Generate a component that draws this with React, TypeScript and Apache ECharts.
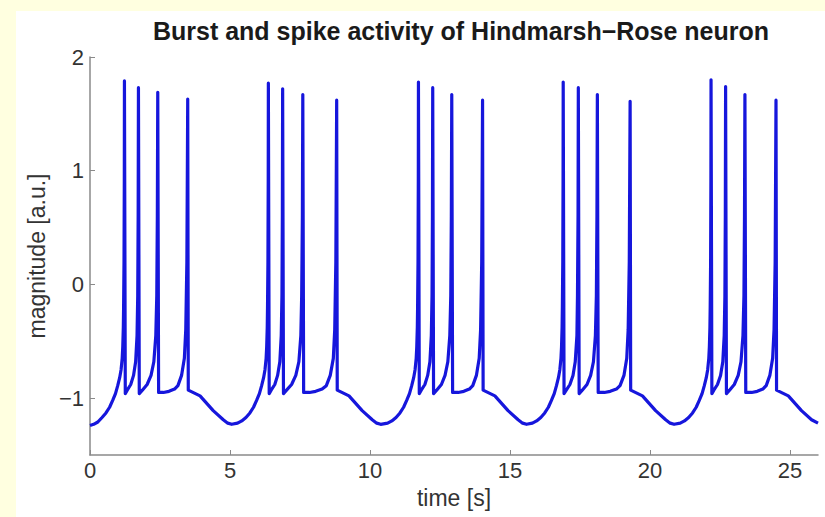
import React, { useEffect, useRef } from "react";
import * as echarts from "echarts";

const titleText = "Burst and spike activity of Hindmarsh\u2212Rose neuron";
const xTicks = [0, 5, 10, 15, 20, 25];
const yTicks = [-1, 0, 1, 2];

const burst1: number[][] = [
  [0, -1.24], [0.13, -1.23], [0.28, -1.21], [0.43, -1.17], [0.57, -1.13], [0.7, -1.08], [0.81, -1.02], [0.91, -0.96], [0.99, -0.89], [1.06, -0.82], [1.11, -0.75], [1.15, -0.65], [1.17, -0.55], [1.19, -0.38], [1.2, -0.2], [1.215, 0.2], [1.225, 0.9], [1.23, 1.79],
  [1.26, -0.96], [1.33, -0.93], [1.455, -0.88], [1.555, -0.8], [1.63, -0.68], [1.68, -0.45], [1.705, -0.1], [1.72, 0.6], [1.73, 1.73],
  [1.76, -0.96], [1.87, -0.93], [2.04, -0.88], [2.18, -0.8], [2.28, -0.68], [2.35, -0.45], [2.385, -0.1], [2.405, 0.6], [2.42, 1.69],
  [2.45, -0.95], [2.62, -0.95], [2.82, -0.94], [3.02, -0.92], [3.14, -0.89], [3.27, -0.8], [3.37, -0.65], [3.42, -0.4], [3.46, 0.2], [3.49, 1.63],
  [3.51, -0.93], [3.93, -0.98], [4.4, -1.11], [4.76, -1.19], [4.92, -1.22], [5.06, -1.23],
];

const burst2: number[][] = [
  [5.27, -1.22], [5.42, -1.2], [5.57, -1.17], [5.71, -1.13], [5.84, -1.08], [5.95, -1.02], [6.05, -0.96], [6.13, -0.89], [6.2, -0.82], [6.25, -0.75], [6.29, -0.65], [6.31, -0.55], [6.33, -0.38], [6.34, -0.2], [6.355, 0.2], [6.365, 0.9], [6.37, 1.77],
  [6.4, -0.96], [6.47, -0.93], [6.6, -0.88], [6.7, -0.8], [6.78, -0.68], [6.83, -0.45], [6.855, -0.1], [6.87, 0.6], [6.88, 1.72],
  [6.91, -0.96], [7.02, -0.93], [7.2, -0.88], [7.35, -0.8], [7.46, -0.68], [7.53, -0.45], [7.56, -0.1], [7.585, 0.6], [7.6, 1.67],
  [7.63, -0.95], [7.84, -0.95], [8.06, -0.94], [8.29, -0.92], [8.44, -0.89], [8.58, -0.8], [8.69, -0.65], [8.74, -0.4], [8.78, 0.2], [8.81, 1.62],
  [8.83, -0.93], [9.25, -0.98], [9.72, -1.11], [10.08, -1.19], [10.24, -1.22], [10.38, -1.23],
];

const burst3: number[][] = [
  [10.63, -1.22], [10.78, -1.2], [10.93, -1.17], [11.07, -1.13], [11.2, -1.08], [11.31, -1.02], [11.41, -0.96], [11.49, -0.89], [11.56, -0.82], [11.61, -0.75], [11.65, -0.65], [11.67, -0.55], [11.69, -0.38], [11.7, -0.2], [11.715, 0.2], [11.725, 0.9], [11.73, 1.78],
  [11.76, -0.96], [11.83, -0.93], [11.96, -0.88], [12.06, -0.8], [12.14, -0.68], [12.19, -0.45], [12.215, -0.1], [12.23, 0.6], [12.24, 1.73],
  [12.27, -0.96], [12.38, -0.93], [12.55, -0.88], [12.68, -0.8], [12.78, -0.68], [12.85, -0.45], [12.885, -0.1], [12.905, 0.6], [12.92, 1.67],
  [12.95, -0.95], [13.15, -0.95], [13.35, -0.94], [13.55, -0.92], [13.67, -0.89], [13.8, -0.8], [13.9, -0.65], [13.95, -0.4], [13.99, 0.2], [14.02, 1.62],
  [14.04, -0.93], [14.46, -0.98], [14.93, -1.11], [15.29, -1.19], [15.45, -1.22], [15.59, -1.23],
];

const burst4: number[][] = [
  [15.8, -1.22], [15.95, -1.2], [16.1, -1.17], [16.24, -1.13], [16.37, -1.08], [16.48, -1.02], [16.58, -0.96], [16.66, -0.89], [16.73, -0.82], [16.78, -0.75], [16.82, -0.65], [16.84, -0.55], [16.86, -0.38], [16.87, -0.2], [16.885, 0.2], [16.895, 0.9], [16.9, 1.78],
  [16.93, -0.96], [17.01, -0.93], [17.14, -0.88], [17.25, -0.8], [17.33, -0.68], [17.39, -0.45], [17.41, -0.1], [17.43, 0.6], [17.44, 1.73],
  [17.47, -0.96], [17.58, -0.93], [17.75, -0.88], [17.88, -0.8], [17.98, -0.68], [18.05, -0.45], [18.085, -0.1], [18.105, 0.6], [18.12, 1.67],
  [18.15, -0.95], [18.37, -0.95], [18.58, -0.94], [18.8, -0.92], [18.93, -0.89], [19.07, -0.8], [19.17, -0.65], [19.22, -0.4], [19.26, 0.2], [19.29, 1.61],
  [19.31, -0.93], [19.73, -0.98], [20.2, -1.11], [20.56, -1.19], [20.72, -1.22], [20.86, -1.23],
];

const burst5: number[][] = [
  [21.08, -1.22], [21.23, -1.2], [21.38, -1.17], [21.52, -1.13], [21.65, -1.08], [21.76, -1.02], [21.86, -0.96], [21.94, -0.89], [22.01, -0.82], [22.06, -0.75], [22.1, -0.65], [22.12, -0.55], [22.14, -0.38], [22.15, -0.2], [22.165, 0.2], [22.175, 0.9], [22.18, 1.8],
  [22.21, -0.96], [22.28, -0.93], [22.41, -0.88], [22.52, -0.8], [22.6, -0.68], [22.65, -0.45], [22.675, -0.1], [22.69, 0.6], [22.7, 1.74],
  [22.73, -0.96], [22.84, -0.93], [23.01, -0.88], [23.15, -0.8], [23.25, -0.68], [23.32, -0.45], [23.355, -0.1], [23.375, 0.6], [23.39, 1.67],
  [23.42, -0.95], [23.63, -0.95], [23.83, -0.94], [24.03, -0.92], [24.15, -0.89], [24.28, -0.8], [24.38, -0.65], [24.43, -0.4], [24.47, 0.2], [24.5, 1.62],
  [24.52, -0.93], [24.94, -0.98], [25.41, -1.11], [25.77, -1.19], [26.0, -1.22],
];

const fmt = (v: number) => (v < 0 ? "\u2212" + Math.abs(v) : String(v));

export default function App() {
  const ref = useRef<HTMLDivElement>(null);
  useEffect(() => {
    if (!ref.current) return;
    const chart = echarts.init(ref.current, null, { renderer: "svg" });
    const font = "'Liberation Sans', Arial, Helvetica, sans-serif";
    chart.setOption({
      animation: false,
      backgroundColor: "#FFFFE0",
      graphic: [
        {
          type: "rect",
          z: -10,
          shape: { x: 16, y: 11, width: 825, height: 520 },
          style: { fill: "#ffffff" },
          silent: true,
        },
      ],
      title: {
        text: titleText,
        left: 456,
        textAlign: "center",
        top: 13,
        textStyle: { fontFamily: font, fontSize: 25, fontWeight: "bold", color: "#1a1a1a" },
      },
      grid: { left: 90, right: 7, top: 57, bottom: 62, containLabel: false },
      xAxis: {
        type: "value",
        min: 0,
        max: 26,
        interval: 5,
        name: "time [s]",
        nameLocation: "middle",
        nameGap: 31,
        nameTextStyle: { fontFamily: font, fontSize: 23, color: "#333" },
        axisLine: { show: true, onZero: false, lineStyle: { color: "#8a8a8a", width: 1.5 } },
        axisTick: { show: true, inside: true, length: 5, lineStyle: { color: "#8a8a8a" }, customValues: xTicks },
        axisLabel: { fontFamily: font, fontSize: 22, color: "#333", margin: 4, customValues: xTicks, formatter: fmt },
        splitLine: { show: false },
      },
      yAxis: {
        type: "value",
        min: -1.5,
        max: 2,
        name: "magnitude [a.u.]",
        nameLocation: "middle",
        nameGap: 38,
        nameRotate: 90,
        nameTextStyle: { fontFamily: font, fontSize: 23, color: "#333" },
        axisLine: { show: true, onZero: false, lineStyle: { color: "#8a8a8a", width: 1.5 } },
        axisTick: { show: true, inside: true, length: 5, lineStyle: { color: "#8a8a8a" }, customValues: yTicks },
        axisLabel: { fontFamily: font, fontSize: 22, color: "#333", margin: 6, customValues: yTicks, formatter: fmt },
        splitLine: { show: false },
      },
      series: [
        {
          type: "line",
          data: [...burst1, ...burst2, ...burst3, ...burst4, ...burst5],
          showSymbol: false,
          symbol: "none",
          lineStyle: { color: "#1616dc", width: 3.2, join: "round" },
          clip: true,
        },
      ],
    });
    return () => chart.dispose();
  }, []);
  return (
    <div
      ref={ref}
      style={{ position: "absolute", left: 0, top: 0, width: 825, height: 517 }}
    />
  );
}
